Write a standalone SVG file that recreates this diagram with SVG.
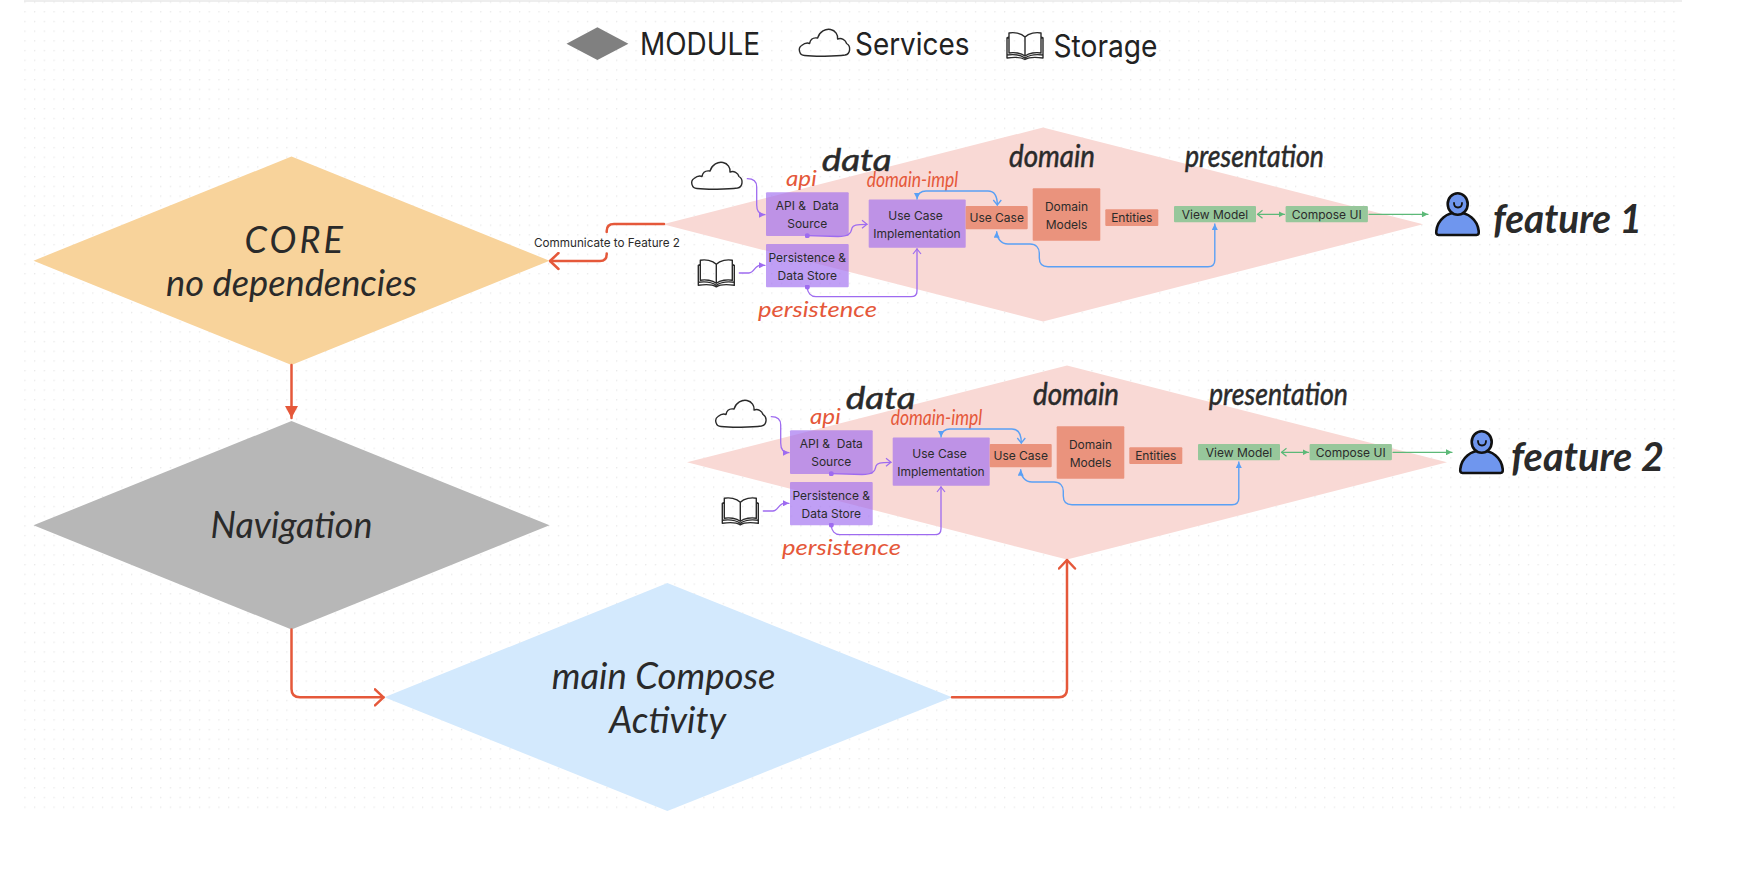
<svg xmlns="http://www.w3.org/2000/svg" width="1738" height="870" viewBox="0 0 1738 870">
<style>
text{font-family:"Inter","Liberation Sans",sans-serif;fill:#2b2b2b}
.c{text-anchor:middle}
.box{font-size:12px;text-anchor:middle;white-space:pre;fill:#2b2b2b}
.leg{font-size:31px;fill:#222}
.hand{font-family:"Lato","Open Sans",sans-serif;font-style:italic;fill:#2a2a2a}
.sec{font-size:30px;stroke:#2a2a2a;stroke-width:.5}
.red{font-family:"Lato","Open Sans",sans-serif;font-style:italic;fill:#E5583A;font-size:21px}
.big{font-size:36px}
.feat{font-size:40px;font-weight:700}
.pu{fill:#9E6BF0;fill-opacity:.65}
.or{fill:#EA937D}
.gr{fill:#97C79B}
.mod{fill:#F9D9D5}
.ink{fill:none;stroke:#2a2a2a;stroke-width:1.4;stroke-linejoin:round;stroke-linecap:round}
.user{fill:#6F96EE;stroke:#111;stroke-width:2.6}
.smile{fill:none;stroke:#111;stroke-width:1.8;stroke-linecap:round}
#connectors path{fill:none;stroke-linecap:round}
.rd{stroke:#E5583A;stroke-width:2.5}
.pl{stroke:#9E6BF0;stroke-width:1.3}
.bl{stroke:#5AA0F5;stroke-width:1.4}
.gn{stroke:#5CB978;stroke-width:1.3}
</style>
<defs>
<pattern id="dots" x="24.3" y="1.4" width="9.7" height="9.7" patternUnits="userSpaceOnUse"><circle cx="0.7" cy="0.7" r="0.7" fill="#e4e4e4"/></pattern>
<symbol id="cloud" viewBox="0 0 53 29" overflow="visible"><path class="ink" d="M7 27.500C1.500 27.500 0 20 4 17.500C6.500 15.500 9.500 14.500 12 15.500C13 10 17 9.500 20 10C22 3.500 28 0.500 33 1.500C38 2.500 40.500 7 40 11C44 9.500 48 12 49 15.500C53.500 18 53 26 47.500 27C38 28.500 16 28.500 7 27.500Z"/></symbol>
<symbol id="book" viewBox="0 0 38 29" overflow="visible"><path class="ink" d="M19 6C15 2 8 1 3 2V22C8 21 15 22 19 25C23 22 30 21 35 22V2C30 1 23 2 19 6V25M3 6L1 7V27C8 26 15 26 19 28.500C23 26 30 26 37 27V7L35 6M1 24C8 23 14 23.500 19 27C24 23.500 30 23 37 24"/></symbol>
<marker id="pf" viewBox="0 0 6 6" refX="6" refY="3" markerWidth="6" markerHeight="6" markerUnits="userSpaceOnUse" orient="auto-start-reverse"><path d="M0 0L6 3L0 6Z" fill="#9E6BF0"/></marker>
<marker id="po" viewBox="0 0 7 10" refX="6" refY="5" markerWidth="7" markerHeight="10" markerUnits="userSpaceOnUse" orient="auto-start-reverse"><path d="M1 1L6 5L1 9" fill="none" stroke="#9E6BF0" stroke-width="1.2"/></marker>
<marker id="pd" viewBox="0 0 6 6" refX="3" refY="3" markerWidth="5" markerHeight="5" markerUnits="userSpaceOnUse"><circle cx="3" cy="3" r="3" fill="#9E6BF0"/></marker>
<marker id="bf" viewBox="0 0 6 6" refX="6" refY="3" markerWidth="6" markerHeight="6" markerUnits="userSpaceOnUse" orient="auto-start-reverse"><path d="M0 0L6 3L0 6Z" fill="#5AA0F5"/></marker>
<marker id="bo" viewBox="0 0 7 10" refX="6" refY="5" markerWidth="7" markerHeight="10" markerUnits="userSpaceOnUse" orient="auto-start-reverse"><path d="M1 1L6 5L1 9" fill="none" stroke="#5AA0F5" stroke-width="1.3"/></marker>
<marker id="gf" viewBox="0 0 6 6" refX="6" refY="3" markerWidth="6" markerHeight="6" markerUnits="userSpaceOnUse" orient="auto-start-reverse"><path d="M0 0L6 3L0 6Z" fill="#5CB978"/></marker>
<marker id="go" viewBox="0 0 7 10" refX="6" refY="5" markerWidth="7" markerHeight="10" markerUnits="userSpaceOnUse" orient="auto-start-reverse"><path d="M1 1L6 5L1 9" fill="none" stroke="#5CB978" stroke-width="1.2"/></marker>
<marker id="rc" viewBox="0 0 11 19" refX="10" refY="9.500" markerWidth="11" markerHeight="19" markerUnits="userSpaceOnUse" orient="auto"><path d="M1.500 1.500L10 9.500L1.500 17.500" fill="none" stroke="#E5583A" stroke-width="2.5" stroke-linecap="round" stroke-linejoin="round"/></marker>
<marker id="rf" viewBox="0 0 12 13" refX="12" refY="6.500" markerWidth="12" markerHeight="13" markerUnits="userSpaceOnUse" orient="auto"><path d="M0 0L12 6.500L0 13Z" fill="#E5583A"/></marker>
</defs>
<rect width="1738" height="870" fill="#fff"/>
<rect x="24" y="0" width="1658" height="2" fill="#eeeeee"/>
<rect x="24" y="0" width="1658" height="809" fill="url(#dots)"/>

<g id="legend">
<path d="M597.400 27.300L628.400 43.700L597.400 60L566.500 43.700Z" fill="#808080"/>
<text class="leg" x="640" y="55" textLength="120" lengthAdjust="spacingAndGlyphs">MODULE</text>
<use href="#cloud" x="797.600" y="28" width="53" height="29"/>
<text class="leg" x="855" y="55" textLength="114.500" lengthAdjust="spacingAndGlyphs">Services</text>
<use href="#book" x="1006" y="31" width="38" height="29"/>
<text class="leg" x="1053.500" y="57" textLength="104" lengthAdjust="spacingAndGlyphs">Storage</text>
</g>

<g id="core"><path d="M291.500 156.500L549.500 260.700L291.500 365L33.500 260.700Z" fill="#F8D39B"/>
<text class="hand big" x="244.600" y="252.500" textLength="98.300" lengthAdjust="spacing">CORE</text>
<text class="hand big" x="166" y="295.500" textLength="251" lengthAdjust="spacingAndGlyphs">no dependencies</text></g>
<g id="navigation"><path d="M291.500 421L549.500 525.300L291.500 629.500L33.500 525.300Z" fill="#B7B7B7"/>
<text class="hand big" x="210.600" y="538" textLength="161.800" lengthAdjust="spacingAndGlyphs">Navigation</text></g>
<g id="main-compose-activity"><path d="M667.400 583L952 697.300L667.400 811L384.400 697.300Z" fill="#D3E9FD"/>
<text class="hand big" x="551.700" y="689" textLength="223.800" lengthAdjust="spacingAndGlyphs">main Compose</text>
<text class="hand big" x="609.300" y="733" textLength="116.700" lengthAdjust="spacingAndGlyphs">Activity</text></g>

<g id="feature1-module"><path class="mod" d="M1043 127.500L1423 224.300L1043 321.500L663 224.300Z"/>
<text class="hand sec" x="821.700" y="170.500" textLength="70" lengthAdjust="spacingAndGlyphs">data</text>
<text class="hand sec" x="1009" y="167" textLength="86" lengthAdjust="spacingAndGlyphs">domain</text>
<text class="hand sec" x="1185" y="167" textLength="139" lengthAdjust="spacingAndGlyphs">presentation</text></g>
<g id="feature1-cloud"><use href="#cloud" x="690" y="161" width="53" height="29"/></g>
<g id="feature1-book"><use href="#book" x="697.300" y="258.300" width="38" height="29"/></g>
<g id="feature1-api"><rect class="pu" x="766" y="192.300" width="82.700" height="43.700" rx="1"/><text class="red" x="786" y="186" textLength="30.700" lengthAdjust="spacingAndGlyphs">api</text><text class="box" x="807.300" y="210.400">API &amp;  Data</text><text class="box" x="807.300" y="228.400">Source</text></g>
<g id="feature1-persistence"><rect class="pu" x="766" y="244" width="82.700" height="43.300" rx="1"/><text class="red" x="758" y="316.700" textLength="119" lengthAdjust="spacingAndGlyphs">persistence</text><text class="box" x="807.300" y="261.800">Persistence &amp;</text><text class="box" x="807.300" y="279.800">Data Store</text></g>
<g id="feature1-use-case-impl"><rect class="pu" x="868.700" y="199.500" width="97" height="48.300" rx="1"/><text class="red" x="866.700" y="186.700" textLength="91.600" lengthAdjust="spacingAndGlyphs">domain-impl</text><text class="box" x="915.500" y="219.500">Use Case</text><text class="box" x="917" y="237.500">Implementation</text></g>
<g id="feature1-use-case"><rect class="or" x="965.700" y="206" width="62" height="23.300" rx="1"/><text class="box" x="996.700" y="222.300">Use Case</text></g>
<g id="feature1-domain-models"><rect class="or" x="1032.700" y="188.300" width="67.600" height="52.400" rx="1"/><text class="box" x="1066.500" y="210.500">Domain</text><text class="box" x="1066.500" y="228.500">Models</text></g>
<g id="feature1-entities"><rect class="or" x="1105.300" y="209.300" width="53" height="16.700" rx="1"/><text class="box" x="1131.800" y="222.300">Entities</text></g>
<g id="feature1-view-model"><rect class="gr" x="1174" y="206" width="82" height="16.300" rx="1"/><text class="box" x="1215" y="218.800">View Model</text></g>
<g id="feature1-compose-ui"><rect class="gr" x="1285.600" y="206" width="82.300" height="16.300" rx="1"/><text class="box" x="1326.700" y="218.800">Compose UI</text></g>
<g id="feature1-user"><path class="user" d="M1438.500 235C1436.500 235 1436 233.500 1436.300 231C1437.500 219.500 1447 212.500 1457.500 212.500C1468 212.500 1477.500 219.500 1478.700 231C1479 233.500 1478.500 235 1476.500 235Z"/><ellipse class="user" cx="1457.700" cy="204" rx="10" ry="10.800"/><path class="smile" d="M1454 203C1454 209 1462 209 1462 203"/><text class="hand feat" x="1493" y="232.500" textLength="149" lengthAdjust="spacingAndGlyphs">feature 1</text></g>

<g id="feature2-module" transform="translate(24 238)"><path class="mod" d="M1043 127.500L1423 224.300L1043 321.500L663 224.300Z"/>
<text class="hand sec" x="821.700" y="170.500" textLength="70" lengthAdjust="spacingAndGlyphs">data</text>
<text class="hand sec" x="1009" y="167" textLength="86" lengthAdjust="spacingAndGlyphs">domain</text>
<text class="hand sec" x="1185" y="167" textLength="139" lengthAdjust="spacingAndGlyphs">presentation</text></g>
<g id="feature2-cloud" transform="translate(24 238)"><use href="#cloud" x="690" y="161" width="53" height="29"/></g>
<g id="feature2-book" transform="translate(24 238)"><use href="#book" x="697.300" y="258.300" width="38" height="29"/></g>
<g id="feature2-api" transform="translate(24 238)"><rect class="pu" x="766" y="192.300" width="82.700" height="43.700" rx="1"/><text class="red" x="786" y="186" textLength="30.700" lengthAdjust="spacingAndGlyphs">api</text><text class="box" x="807.300" y="210.400">API &amp;  Data</text><text class="box" x="807.300" y="228.400">Source</text></g>
<g id="feature2-persistence" transform="translate(24 238)"><rect class="pu" x="766" y="244" width="82.700" height="43.300" rx="1"/><text class="red" x="758" y="316.700" textLength="119" lengthAdjust="spacingAndGlyphs">persistence</text><text class="box" x="807.300" y="261.800">Persistence &amp;</text><text class="box" x="807.300" y="279.800">Data Store</text></g>
<g id="feature2-use-case-impl" transform="translate(24 238)"><rect class="pu" x="868.700" y="199.500" width="97" height="48.300" rx="1"/><text class="red" x="866.700" y="186.700" textLength="91.600" lengthAdjust="spacingAndGlyphs">domain-impl</text><text class="box" x="915.500" y="219.500">Use Case</text><text class="box" x="917" y="237.500">Implementation</text></g>
<g id="feature2-use-case" transform="translate(24 238)"><rect class="or" x="965.700" y="206" width="62" height="23.300" rx="1"/><text class="box" x="996.700" y="222.300">Use Case</text></g>
<g id="feature2-domain-models" transform="translate(24 238)"><rect class="or" x="1032.700" y="188.300" width="67.600" height="52.400" rx="1"/><text class="box" x="1066.500" y="210.500">Domain</text><text class="box" x="1066.500" y="228.500">Models</text></g>
<g id="feature2-entities" transform="translate(24 238)"><rect class="or" x="1105.300" y="209.300" width="53" height="16.700" rx="1"/><text class="box" x="1131.800" y="222.300">Entities</text></g>
<g id="feature2-view-model" transform="translate(24 238)"><rect class="gr" x="1174" y="206" width="82" height="16.300" rx="1"/><text class="box" x="1215" y="218.800">View Model</text></g>
<g id="feature2-compose-ui" transform="translate(24 238)"><rect class="gr" x="1285.600" y="206" width="82.300" height="16.300" rx="1"/><text class="box" x="1326.700" y="218.800">Compose UI</text></g>
<g id="feature2-user" transform="translate(24 238)"><path class="user" d="M1438.500 235C1436.500 235 1436 233.500 1436.300 231C1437.500 219.500 1447 212.500 1457.500 212.500C1468 212.500 1477.500 219.500 1478.700 231C1479 233.500 1478.500 235 1476.500 235Z"/><ellipse class="user" cx="1457.700" cy="204" rx="10" ry="10.800"/><path class="smile" d="M1454 203C1454 209 1462 209 1462 203"/><text class="hand feat" x="1487" y="232.500" textLength="153" lengthAdjust="spacingAndGlyphs">feature 2</text></g>

<g id="connectors">
<path class="rd" d="M664 224L614 224Q606.700 224 606.700 231L606.700 232"/>
<path class="rd" d="M606.700 253.500L606.700 254Q606.700 261 600 261L550 261" marker-end="url(#rc)"/>
<path class="rd" d="M291.500 365L291.500 418" marker-end="url(#rf)"/>
<path class="rd" d="M291.500 629.500L291.500 689Q291.500 697.300 300 697.300L383.500 697.300" marker-end="url(#rc)"/>
<path class="rd" d="M952 697.300L1059 697.300Q1067 697.300 1067 689L1067 560" marker-end="url(#rc)"/>
<g id="feature1-connectors">
<path class="pl" d="M747.300 178.700C753 178.700 756.700 181 756.700 187L756.700 205C756.700 211 759 214.700 765 214.700" marker-end="url(#pf)"/>
<path class="pl" d="M807.300 235.700L838 236.500C848 236.500 851 234 852 228C853 225 856 224.300 867 224.300" marker-start="url(#pd)" marker-end="url(#po)"/>
<path class="pl" d="M739.300 273L749 273C754 273 755 265.300 760 265.300L765 265.300" marker-end="url(#pf)"/>
<path class="pl" d="M807.300 287C807.300 293 811 296.700 816 296.700L911 296.700Q917 296.700 917 290.700L917 249" marker-start="url(#pd)" marker-end="url(#po)"/>
<path class="bl" d="M917 199C917 194 921 191 926 191L988 191C994 191 997.300 196 997.300 205" marker-start="url(#bf)" marker-end="url(#bo)"/>
<path class="bl" d="M996.700 231.700C996.700 238 1001 244 1008 244L1030 244C1036 244 1039.300 248 1039.300 253L1039.300 258C1039.300 264 1043 266.700 1048 266.700L1208 266.700Q1214.800 266.700 1214.800 260L1214.800 224" marker-start="url(#bf)" marker-end="url(#bf)"/>
<path class="gn" d="M1257.500 214.300L1284.500 214.300" marker-start="url(#go)" marker-end="url(#gf)"/>
<path class="gn" d="M1369 214.300L1428 214.300" marker-end="url(#gf)"/>
</g>
<g id="feature2-connectors" transform="translate(24 238)">
<path class="pl" d="M747.300 178.700C753 178.700 756.700 181 756.700 187L756.700 205C756.700 211 759 214.700 765 214.700" marker-end="url(#pf)"/>
<path class="pl" d="M807.300 235.700L838 236.500C848 236.500 851 234 852 228C853 225 856 224.300 867 224.300" marker-start="url(#pd)" marker-end="url(#po)"/>
<path class="pl" d="M739.300 273L749 273C754 273 755 265.300 760 265.300L765 265.300" marker-end="url(#pf)"/>
<path class="pl" d="M807.300 287C807.300 293 811 296.700 816 296.700L911 296.700Q917 296.700 917 290.700L917 249" marker-start="url(#pd)" marker-end="url(#po)"/>
<path class="bl" d="M917 199C917 194 921 191 926 191L988 191C994 191 997.300 196 997.300 205" marker-start="url(#bf)" marker-end="url(#bo)"/>
<path class="bl" d="M996.700 231.700C996.700 238 1001 244 1008 244L1030 244C1036 244 1039.300 248 1039.300 253L1039.300 258C1039.300 264 1043 266.700 1048 266.700L1208 266.700Q1214.800 266.700 1214.800 260L1214.800 224" marker-start="url(#bf)" marker-end="url(#bf)"/>
<path class="gn" d="M1257.500 214.300L1284.500 214.300" marker-start="url(#go)" marker-end="url(#gf)"/>
<path class="gn" d="M1369 214.300L1428 214.300" marker-end="url(#gf)"/>
</g>
</g>
<text id="communicate-label" x="607" y="247" font-size="12" class="c" textLength="146" lengthAdjust="spacingAndGlyphs">Communicate to Feature 2</text>
</svg>
